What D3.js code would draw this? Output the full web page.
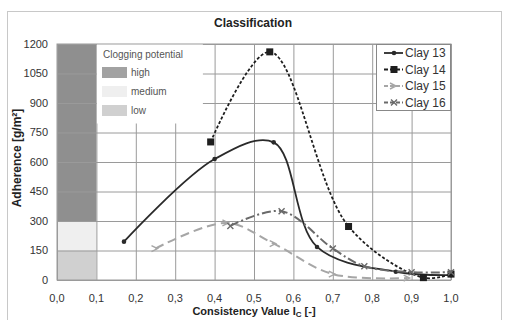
<!DOCTYPE html>
<html>
<head>
<meta charset="utf-8">
<script src="https://cdn.jsdelivr.net/npm/d3@7"></script>
<style>
  body { margin: 0; background: #fff; }
  text { font-family: "Liberation Sans", Arial, sans-serif; }
</style>
</head>
<body>
<script>
var width = 506,
    height = 320;

// - - - - DATA - - - -
var xTicks = [0, 0.1, 0.2, 0.3, 0.4, 0.5, 0.6, 0.7, 0.8, 0.9, 1.0];
var yTicks = [0, 150, 300, 450, 600, 750, 900, 1050, 1200];

var clay13 = [[0.17, 195], [0.40, 615], [0.55, 700], [0.66, 168], [0.86, 42], [1.0, 25]];
var clay14 = [[0.39, 702], [0.54, 1160], [0.74, 272], [0.93, 12], [1.0, 30]];
var clay15 = [[0.25, 160], [0.43, 290], [0.55, 185], [0.70, 30], [0.89, 10]];
var clay16 = [[0.44, 275], [0.57, 350], [0.70, 160], [0.78, 70], [0.90, 40], [1.0, 40]];

var bands = [
  { name: "high",   y0: 300, y1: 1200, color: "#8f8f8f" },
  { name: "medium", y0: 150, y1: 300,  color: "#efefef" },
  { name: "low",    y0: 0,   y1: 150,  color: "#d0d0d0" }
];

var series = [
  { name: "Clay 13", data: clay13, color: "#2a2a2a", dash: null,      w: 1.8, mark: "dot" },
  { name: "Clay 14", data: clay14, color: "#1e1e1e", dash: "3,2",     w: 1.8, mark: "square" },
  { name: "Clay 15", data: clay15, color: "#a6a6a6", dash: "9,5",     w: 2,   mark: "arrow" },
  { name: "Clay 16", data: clay16, color: "#6a6a6a", dash: "9,3,2,3", w: 2,   mark: "cross" }
];

var svg = d3.select("body").append("svg")
    .attr("width", width)
    .attr("height", height);

// outer frame
svg.append("rect")
    .attr("x", 7.5).attr("y", 11.5)
    .attr("width", 494).attr("height", 312)
    .attr("fill", "#fff")
    .attr("stroke", "#c8c8c8");

var x = d3.scaleLinear().domain([0, 1]).range([57, 451]),
    y = d3.scaleLinear().domain([0, 1200]).range([280, 44]);

// clogging bands
svg.selectAll("rect.band")
    .data(bands)
  .enter().append("rect")
    .attr("class", "band")
    .attr("x", x(0)).attr("width", x(0.1) - x(0))
    .attr("y", function(d) { return y(d.y1); })
    .attr("height", function(d) { return y(d.y0) - y(d.y1); })
    .attr("fill", function(d) { return d.color; });

// grid
svg.append("g")
    .attr("transform", "translate(0,280)")
    .call(d3.axisBottom(x).tickValues(xTicks).tickSize(-236).tickFormat(""))
    .call(function(g) { g.select(".domain").remove(); })
    .selectAll("line").attr("stroke", "#9a9a9a");

svg.append("g")
    .attr("transform", "translate(57,0)")
    .call(d3.axisLeft(y).tickValues(yTicks).tickSize(-394).tickFormat(""))
    .call(function(g) { g.select(".domain").remove(); })
    .selectAll("line").attr("stroke", "#9a9a9a");

svg.append("rect")
    .attr("x", x(0)).attr("y", y(1200))
    .attr("width", x(1) - x(0)).attr("height", y(0) - y(1200))
    .attr("fill", "none").attr("stroke", "#9a9a9a");

// tick labels
svg.append("g").selectAll("text")
    .data(yTicks)
  .enter().append("text")
    .attr("x", 48)
    .attr("y", function(d) { return y(d); })
    .attr("dy", "0.35em")
    .attr("text-anchor", "end")
    .attr("font-size", 11)
    .attr("fill", "#333")
    .text(function(d) { return d; });

svg.append("g").selectAll("text")
    .data(xTicks)
  .enter().append("text")
    .attr("x", function(d) { return x(d); })
    .attr("y", 302)
    .attr("text-anchor", "middle")
    .attr("font-size", 11)
    .attr("fill", "#333")
    .text(function(d) { return d3.format(".1f")(d).replace(".", ","); });

// clogging legend (white box over grid)
svg.append("rect")
    .attr("x", x(0.1) + 0.5).attr("y", y(1200) + 0.5)
    .attr("width", 106).attr("height", 79)
    .attr("fill", "#fff");

svg.append("text")
    .attr("x", 103).attr("y", 58)
    .attr("font-size", 10)
    .attr("fill", "#555")
    .text("Clogging potential");

var cl = svg.append("g").selectAll("g")
    .data(bands)
  .enter().append("g")
    .attr("transform", function(d, i) { return "translate(102," + (67 + i * 19) + ")"; });

cl.append("rect")
    .attr("width", 25).attr("height", 11)
    .attr("fill", function(d) { return d.color === "#8f8f8f" ? "#a2a2a2" : d.color; });

cl.append("text")
    .attr("x", 29).attr("y", 9)
    .attr("font-size", 10)
    .attr("fill", "#555")
    .text(function(d) { return d.name; });

// curves
var line = d3.line()
    .x(function(d) { return x(d[0]); })
    .y(function(d) { return y(d[1]); })
    .curve(d3.curveCatmullRom.alpha(0.5));

function marker(sel, s) {
  if (s.mark === "dot") {
    sel.append("circle").attr("r", 2.3).attr("fill", s.color);
  } else if (s.mark === "square") {
    sel.append("rect").attr("x", -3.5).attr("y", -3.5)
      .attr("width", 7).attr("height", 7).attr("fill", s.color);
  } else if (s.mark === "arrow") {
    sel.append("path").attr("d", "M-4,-3L2,0L-4,3").attr("fill", "none")
      .attr("stroke", s.color).attr("stroke-width", 1.4);
  } else {
    sel.append("path").attr("d", "M-3,-3L3,3M-3,3L3,-3").attr("fill", "none")
      .attr("stroke", s.color).attr("stroke-width", 1.4);
  }
}

series.forEach(function(s) {
  svg.append("path")
      .attr("d", line(s.data))
      .attr("fill", "none")
      .attr("stroke", s.color)
      .attr("stroke-width", s.w)
      .attr("stroke-dasharray", s.dash);

  svg.append("g").selectAll("g")
      .data(s.data)
    .enter().append("g")
      .attr("transform", function(d) { return "translate(" + x(d[0]) + "," + y(d[1]) + ")"; })
      .each(function() { marker(d3.select(this), s); });
});

// series legend
svg.append("rect")
    .attr("x", 376.5).attr("y", 44.5)
    .attr("width", 74).attr("height", 66)
    .attr("fill", "#fff")
    .attr("stroke", "#888");

var sl = svg.append("g").selectAll("g")
    .data(series)
  .enter().append("g")
    .attr("transform", function(d, i) { return "translate(384," + (53 + i * 16.5) + ")"; });

sl.append("line")
    .attr("x1", 0).attr("x2", 19)
    .attr("stroke", function(d) { return d.color; })
    .attr("stroke-width", function(d) { return d.w; })
    .attr("stroke-dasharray", function(d) { return d.dash ? "4,2" : null; });

sl.append("g")
    .attr("transform", "translate(10,0)")
    .each(function(d) { marker(d3.select(this), d); });

sl.append("text")
    .attr("x", 21).attr("dy", "0.35em")
    .attr("font-size", 12)
    .attr("fill", "#333")
    .text(function(d) { return d.name; });

// titles
svg.append("text")
    .attr("x", 253).attr("y", 27)
    .attr("text-anchor", "middle")
    .attr("font-size", 12).attr("font-weight", "bold")
    .attr("fill", "#222")
    .text("Classification");

svg.append("text")
    .attr("transform", "translate(21,158) rotate(-90)")
    .attr("text-anchor", "middle")
    .attr("font-size", 12).attr("font-weight", "bold")
    .attr("fill", "#222")
    .text("Adherence [g/m²]");

var xl = svg.append("text")
    .attr("x", 254).attr("y", 315)
    .attr("text-anchor", "middle")
    .attr("font-size", 11).attr("font-weight", "bold")
    .attr("fill", "#222");
xl.append("tspan").text("Consistency Value I");
xl.append("tspan").attr("font-size", 8).attr("dy", 2).text("C");
xl.append("tspan").attr("dy", -2).text(" [-]");
</script>
</body>
</html>
